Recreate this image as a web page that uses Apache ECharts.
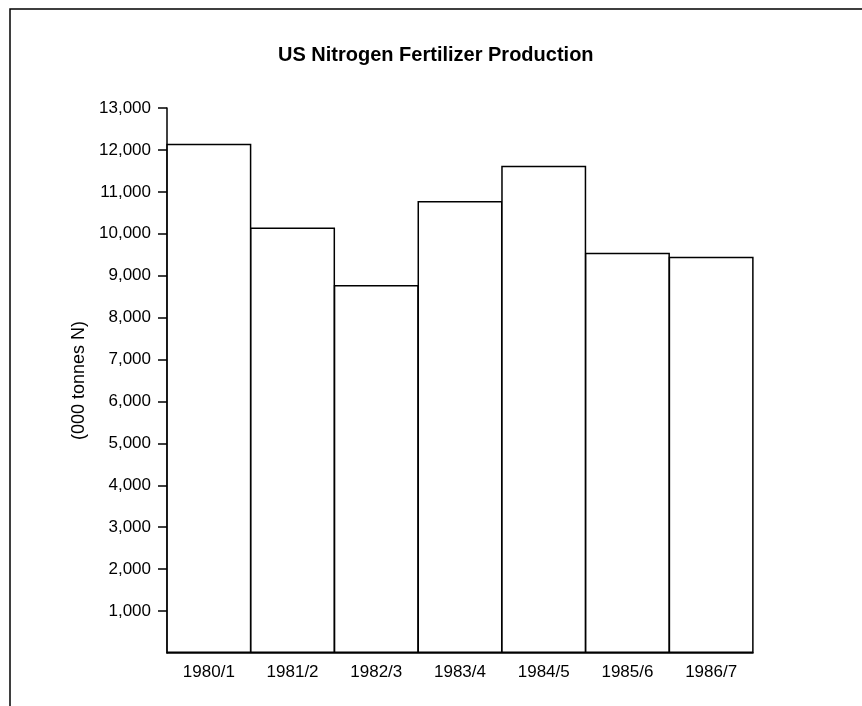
<!DOCTYPE html>
<html>
<head>
<meta charset="utf-8">
<script src="https://cdn.jsdelivr.net/npm/echarts@6/dist/echarts.min.js"></script>
<style>
  html, body { margin: 0; padding: 0; background: #fff; }
  #chart { width: 862px; height: 706px; }
</style>
</head>
<body>
<div id="chart"></div>
<script>
// data
const seasons = ['1980/1', '1981/2', '1982/3', '1983/4', '1984/5', '1985/6', '1986/7'];
const production = [12150, 10150, 8780, 10780, 11620, 9550, 9450];
const yTicks = [1000, 2000, 3000, 4000, 5000, 6000, 7000, 8000, 9000, 10000, 11000, 12000, 13000];

const font = 'Liberation Sans, Arial, Helvetica, sans-serif';

function thousands(v) {
  return String(v).replace(/\B(?=(\d{3})+(?!\d))/g, ',');
}

const chart = echarts.init(document.getElementById('chart'));
chart.setOption({
  animation: false,
  backgroundColor: '#fff',
  title: {
    text: 'US Nitrogen Fertilizer Production',
    left: 273,
    top: 40,
    textStyle: { fontFamily: font, fontSize: 20, fontWeight: 'bold', color: '#000' }
  },
  grid: { left: 167, right: 109, top: 108, bottom: 53 },
  xAxis: {
    type: 'category',
    data: seasons,
    axisLine: { lineStyle: { color: '#000', width: 1.5 } },
    axisTick: { show: false },
    axisLabel: { color: '#000', fontFamily: font, fontSize: 17, margin: 11 }
  },
  yAxis: {
    type: 'value',
    min: 0,
    max: 13000,
    interval: 1000,
    name: '(000 tonnes N)',
    nameLocation: 'middle',
    nameGap: 73,
    nameTextStyle: { color: '#000', fontFamily: font, fontSize: 18 },
    splitLine: { show: false },
    axisLine: { show: true, lineStyle: { color: '#000', width: 1.5 } },
    axisTick: { show: true, length: 9, customValues: yTicks, lineStyle: { color: '#000', width: 1.5 } },
    axisLabel: {
      color: '#000', fontFamily: font, fontSize: 17, margin: 16,
      customValues: yTicks,
      formatter: thousands
    }
  },
  series: [{
    type: 'bar',
    data: production,
    barWidth: '101.5%',
    itemStyle: { color: '#fff', borderColor: '#000', borderWidth: 1.5 }
  }],
  graphic: [
    { type: 'polyline', shape: { points: [[10, 706], [10, 9], [862, 9]] },
      style: { stroke: '#000', lineWidth: 1.5, fill: null } }
  ]
});
</script>
</body>
</html>
